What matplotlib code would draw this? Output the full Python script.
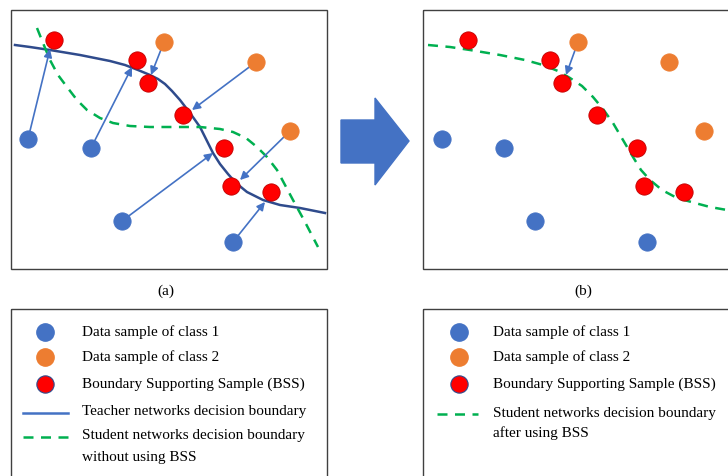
import matplotlib.pyplot as plt
from matplotlib.patches import Rectangle, Polygon

plt.rcParams['font.family'] = ['Liberation Serif', 'DejaVu Serif']

BLUE = '#4472C4'
ORANGE = '#ED7D31'
RED = '#FF0000'
GREEN = '#00B050'
TEACHER = '#2F4B8C'

# panel (a) samples, pixel coordinates
a_class1 = [(28, 139), (91, 148), (122, 221), (233, 242)]
a_class2 = [(164, 42), (256, 62), (290, 131)]
a_bss = [(54, 40), (137, 60), (148, 83), (183, 115), (224, 148), (231, 186), (271, 192)]
a_arrows = [((28, 139), (50, 49)), ((91, 148), (132, 67)), ((164, 42), (151, 75)),
            ((256, 62), (192, 110)), ((290, 131), (240, 180)), ((122, 221), (213, 153)),
            ((233, 242), (265, 202))]
teacher_x = [15, 30, 50, 80, 110, 125, 138, 150, 158, 165, 172, 180, 190, 200, 207, 213, 220, 228, 236, 247, 263, 280, 300, 325]
teacher_y = [45, 47, 50, 55, 61, 65, 70, 75, 79, 84, 91, 100, 113, 127, 141, 153, 164, 174, 183, 192, 200, 205, 208, 213]
student_a_x = [37, 43, 50, 58, 67, 77, 87, 100, 113, 130, 150, 175, 200, 220, 233, 246, 257, 267, 277, 285, 293, 305, 318]
student_a_y = [28, 43, 60, 75, 87, 100, 110, 118, 123, 126, 127, 127, 127, 129, 132, 138, 147, 157, 170, 185, 200, 222, 247]

# panel (b) samples
b_class1 = [(442, 139), (504, 148), (535, 221), (647, 242)]
b_class2 = [(578, 42), (669, 62), (704, 131)]
b_bss = [(468, 40), (550, 60), (562, 83), (597, 115), (637, 148), (644, 186), (684, 192)]
b_arrows = [((578, 42), (566, 75))]
student_b_x = [428, 450, 470, 500, 525, 543, 558, 570, 582, 593, 603, 613, 623, 633, 641, 650, 662, 677, 695, 710, 727]
student_b_y = [45, 47, 50, 55, 60, 65, 71, 78, 86, 97, 109, 123, 140, 157, 170, 180, 190, 198, 203, 207, 210]

legend_a = ['Data sample of class 1', 'Data sample of class 2', 'Boundary Supporting Sample (BSS)',
            'Teacher networks decision boundary', 'Student networks decision boundary',
            'without using BSS']
legend_b = ['Data sample of class 1', 'Data sample of class 2', 'Boundary Supporting Sample (BSS)',
            'Student networks decision boundary', 'after using BSS']

fig = plt.figure(figsize=(7.28, 4.76), dpi=100)
ax = fig.add_axes([0, 0, 1, 1])
ax.set_xlim(0, 728)
ax.set_ylim(476, 0)
ax.axis('off')

S = 155


def dots(pts, color, edge=None):
    xs = [p[0] for p in pts]
    ys = [p[1] for p in pts]
    ax.scatter(xs, ys, s=S, color=color, edgecolors=edge or color, linewidths=0.6, zorder=5)


def arrows(lst):
    for tail, head in lst:
        ax.annotate('', xy=head, xytext=tail,
                    arrowprops=dict(arrowstyle='-|>', color=BLUE, lw=1.2, mutation_scale=12,
                                    shrinkA=5, shrinkB=0), zorder=3)


# frames
for x0, y0, w, h in [(11, 10, 316, 259), (423, 10, 310, 259), (11, 309, 316, 180), (423, 309, 310, 180)]:
    ax.add_patch(Rectangle((x0, y0), w, h, fill=False, edgecolor='#404040', lw=1.0))

# panel (a)
ax.plot(teacher_x, teacher_y, color=TEACHER, lw=1.8, zorder=2)
ax.plot(student_a_x, student_a_y, color=GREEN, lw=1.8, ls=(0, (4, 3)), zorder=2)
arrows(a_arrows)
dots(a_class1, BLUE)
dots(a_class2, ORANGE)
dots(a_bss, RED, '#C00000')

# panel (b)
ax.plot(student_b_x, student_b_y, color=GREEN, lw=1.8, ls=(0, (4, 3)), zorder=2)
arrows(b_arrows)
dots(b_class1, BLUE)
dots(b_class2, ORANGE)
dots(b_bss, RED, '#C00000')

# big arrow between panels
ax.add_patch(Polygon([(341, 120), (375, 120), (375, 98), (409, 141), (375, 185), (375, 163), (341, 163)],
                     closed=True, color=BLUE))

ax.text(166, 291, '(a)', ha='center', va='center', fontsize=11)
ax.text(583, 291, '(b)', ha='center', va='center', fontsize=11)

# legend (a)
fs = 11
ax.scatter([45], [332], s=S, color=BLUE)
ax.scatter([45], [357], s=S, color=ORANGE)
ax.scatter([45], [384], s=S, color=RED, edgecolors='#2F4B8C', linewidths=0.8)
ax.plot([23, 68], [413, 413], color=BLUE, lw=1.8)
ax.plot([23, 68], [437, 437], color=GREEN, lw=1.8, ls=(0, (4, 3)))
for y, t in zip([332, 357, 384, 412, 436, 457], legend_a):
    ax.text(82, y, t, va='center', fontsize=fs)

# legend (b)
ax.scatter([459], [332], s=S, color=BLUE)
ax.scatter([459], [357], s=S, color=ORANGE)
ax.scatter([459], [384], s=S, color=RED, edgecolors='#2F4B8C', linewidths=0.8)
ax.plot([437, 478], [414, 414], color=GREEN, lw=1.8, ls=(0, (4, 3)))
for y, t in zip([332, 357, 384, 413, 433], legend_b):
    ax.text(493, y, t, va='center', fontsize=fs)

fig.savefig('out.png', dpi=100)
